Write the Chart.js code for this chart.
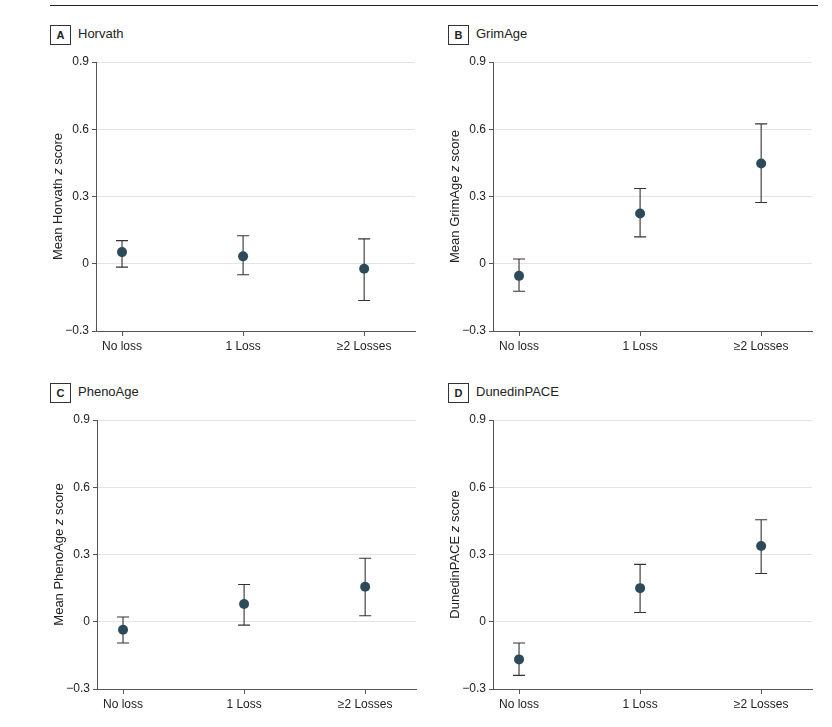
<!DOCTYPE html>
<html>
<head>
<meta charset="utf-8">
<script src="https://cdn.jsdelivr.net/npm/chart.js@4"></script>
<style>
  html, body { margin:0; padding:0; background:#fff; }
  body { width:832px; height:727px; position:relative; overflow:hidden; font-family:"Liberation Sans", Arial, sans-serif; color:#222; }
  .rule { position:absolute; left:50px; top:5px; width:768px; height:0; border-top:1.5px solid #222; }
  .box { position:absolute; width:19px; height:18px; border:1px solid #333; font-size:11px; font-weight:bold; text-align:center; line-height:18px; color:#222; }
  .ttl { position:absolute; font-size:13px; line-height:18px; color:#222; }
  .cv { position:absolute; }
</style>
</head>
<body>
<div class="rule"></div>

<div class="box" style="left:50px;top:25px;">A</div><div class="ttl" style="left:78px;top:25px;">Horvath</div>
<div class="box" style="left:448px;top:25px;">B</div><div class="ttl" style="left:476px;top:25px;">GrimAge</div>
<div class="box" style="left:50px;top:383px;">C</div><div class="ttl" style="left:78px;top:383px;">PhenoAge</div>
<div class="box" style="left:448px;top:383px;">D</div><div class="ttl" style="left:476px;top:383px;">DunedinPACE</div>

<canvas id="cA" class="cv" width="380" height="310" style="left:40px;top:50px;"></canvas>
<canvas id="cB" class="cv" width="380" height="310" style="left:437px;top:50px;"></canvas>
<canvas id="cC" class="cv" width="380" height="310" style="left:41px;top:408px;"></canvas>
<canvas id="cD" class="cv" width="380" height="310" style="left:437px;top:408px;"></canvas>

<script>
// ---- data ----
const categories = ['No loss', '1 Loss', '\u22652 Losses'];
const yTicks = [-0.3, 0, 0.3, 0.6, 0.9];
const yTickLabels = ['\u22120.3', '0', '0.3', '0.6', '0.9'];

const horvathMean  = [0.052, 0.033, -0.022];
const horvathLower = [-0.015, -0.049, -0.164];
const horvathUpper = [0.103, 0.125, 0.111];

const grimMean  = [-0.054, 0.224, 0.447];
const grimLower = [-0.123, 0.120, 0.273];
const grimUpper = [0.021, 0.336, 0.624];

const phenoMean  = [-0.036, 0.079, 0.156];
const phenoLower = [-0.095, -0.015, 0.027];
const phenoUpper = [0.021, 0.166, 0.283];

const dunedinMean  = [-0.168, 0.150, 0.338];
const dunedinLower = [-0.239, 0.041, 0.215];
const dunedinUpper = [-0.095, 0.256, 0.455];

// ---- style ----
const POINT_COLOR = '#2d4a5a';
const BAR_COLOR = '#333';
const AXIS_COLOR = '#555';
const GRID_COLOR = '#e4e4e4';
const FONT = '"Liberation Sans", Arial, sans-serif';

const errorBarPlugin = {
  id: 'errorBars',
  beforeDatasetsDraw(chart) {
    const o = chart.options.plugins.errorBars;
    const xs = chart.scales.x, ys = chart.scales.y, ctx = chart.ctx;
    ctx.save();
    ctx.strokeStyle = BAR_COLOR;
    ctx.lineWidth = 1.1;
    o.lower.forEach((lo, i) => {
      const x = xs.getPixelForValue(i);
      const yl = ys.getPixelForValue(lo);
      const yu = ys.getPixelForValue(o.upper[i]);
      ctx.beginPath();
      ctx.moveTo(x, yu); ctx.lineTo(x, yl);
      ctx.moveTo(x - 6, yu); ctx.lineTo(x + 6, yu);
      ctx.moveTo(x - 6, yl); ctx.lineTo(x + 6, yl);
      ctx.stroke();
    });
    ctx.restore();
  }
};

const yTitlePlugin = {
  id: 'yTitle',
  afterDraw(chart) {
    const parts = chart.options.plugins.yTitle.parts;
    const ctx = chart.ctx, ca = chart.chartArea;
    ctx.save();
    ctx.translate(18, (ca.top + ca.bottom) / 2);
    ctx.rotate(-Math.PI / 2);
    ctx.textBaseline = 'middle';
    ctx.fillStyle = '#222';
    let total = 0;
    const fonts = parts.map(p => (p.italic ? 'italic ' : '') + '13px ' + FONT);
    parts.forEach((p, i) => { ctx.font = fonts[i]; total += ctx.measureText(p.text).width; });
    let x = -total / 2;
    parts.forEach((p, i) => {
      ctx.font = fonts[i];
      ctx.textAlign = 'left';
      ctx.fillText(p.text, x, 0);
      x += ctx.measureText(p.text).width;
    });
    ctx.restore();
  }
};

function makeChart(id, mean, lower, upper, titleParts) {
  new Chart(document.getElementById(id), {
    type: 'scatter',
    data: {
      datasets: [{
        data: mean.map((v, i) => ({ x: i, y: v })),
        pointRadius: 5,
        pointHoverRadius: 5,
        pointBackgroundColor: POINT_COLOR,
        pointBorderColor: POINT_COLOR,
        pointBorderWidth: 0,
        showLine: false
      }]
    },
    options: {
      responsive: false,
      animation: false,
      devicePixelRatio: 1,
      layout: { padding: { top: 12, right: 5, left: 0, bottom: 0 } },
      plugins: {
        legend: { display: false },
        tooltip: { enabled: false },
        errorBars: { lower: lower, upper: upper },
        yTitle: { parts: titleParts }
      },
      scales: {
        x: {
          type: 'linear',
          min: -0.215,
          max: 2.42,
          afterBuildTicks(scale) { scale.ticks = categories.map((c, i) => ({ value: i })); },
          afterFit(scale) { scale.height = 29; },
          ticks: {
            callback: (v) => categories[v],
            color: '#222',
            font: { family: FONT, size: 12 },
            padding: 3,
            maxRotation: 0,
            autoSkip: false
          },
          grid: { drawOnChartArea: false, drawTicks: true, tickLength: 5, tickColor: AXIS_COLOR, tickWidth: 1 },
          border: { display: true, color: AXIS_COLOR, width: 1 }
        },
        y: {
          min: -0.3,
          max: 0.9,
          afterBuildTicks(scale) { scale.ticks = yTicks.map(v => ({ value: v })); },
          afterFit(scale) { scale.width = 56; },
          ticks: {
            callback: (v) => yTickLabels[yTicks.findIndex(t => Math.abs(t - v) < 1e-9)],
            color: '#222',
            font: { family: FONT, size: 12 },
            padding: 3
          },
          grid: { color: GRID_COLOR, lineWidth: 1, drawTicks: true, tickLength: 4, tickColor: AXIS_COLOR },
          border: { display: true, color: AXIS_COLOR, width: 1 }
        }
      }
    },
    plugins: [errorBarPlugin, yTitlePlugin]
  });
}

makeChart('cA', horvathMean, horvathLower, horvathUpper,
  [{ text: 'Mean Horvath ' }, { text: 'z', italic: true }, { text: ' score' }]);
makeChart('cB', grimMean, grimLower, grimUpper,
  [{ text: 'Mean GrimAge ' }, { text: 'z', italic: true }, { text: ' score' }]);
makeChart('cC', phenoMean, phenoLower, phenoUpper,
  [{ text: 'Mean PhenoAge ' }, { text: 'z', italic: true }, { text: ' score' }]);
makeChart('cD', dunedinMean, dunedinLower, dunedinUpper,
  [{ text: 'DunedinPACE ' }, { text: 'z', italic: true }, { text: ' score' }]);
</script>
</body>
</html>
